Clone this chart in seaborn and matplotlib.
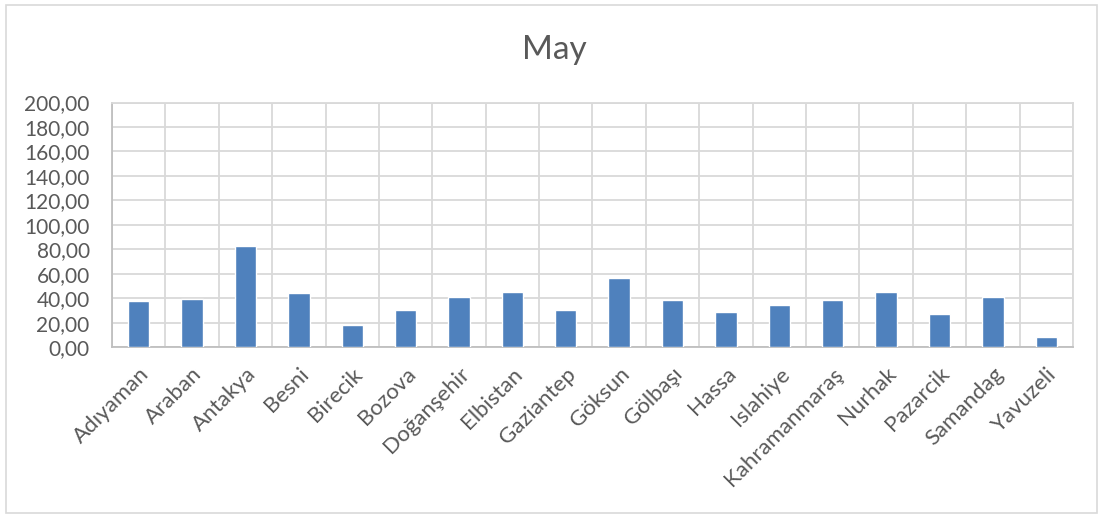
import matplotlib
matplotlib.use("Agg")
import matplotlib.pyplot as plt
import seaborn as sns
import pandas as pd
from matplotlib.ticker import MultipleLocator, FuncFormatter
from matplotlib.patches import Rectangle

districts = ["Adıyaman", "Araban", "Antakya", "Besni", "Birecik", "Bozova",
             "Doğanşehir", "Elbistan", "Gaziantep", "Göksun", "Gölbaşı", "Hassa",
             "Islahiye", "Kahramanmaraş", "Nurhak", "Pazarcik", "Samandag", "Yavuzeli"]
values = [37.5, 39.7, 83.0, 44.1, 18.1, 30.7,
          40.8, 44.7, 30.7, 56.7, 38.4, 28.5,
          34.0, 38.4, 44.7, 26.8, 40.8, 8.2]
title = "May"

df = pd.DataFrame({"district": districts, "value": values})

sns.set_theme(style="white")
plt.rcParams["font.family"] = ["Lato", "DejaVu Sans"]

text_color = "#595959"
grid_color = "#d9d9d9"

fig = plt.figure(figsize=(11.03, 5.18), dpi=100)
ax = fig.add_axes([0.1015, 0.330, 0.8713, 0.472])

sns.barplot(data=df, x="district", y="value", color="#4f81bd", width=0.4,
            saturation=1, ax=ax, zorder=3)

ax.set_ylim(0, 200)
ax.set_xlim(-0.5, len(districts) - 0.5)
ax.yaxis.set_major_locator(MultipleLocator(20))
ax.yaxis.set_major_formatter(FuncFormatter(lambda v, p: f"{v:.2f}".replace(".", ",")))

# vertical grid between categories, horizontal grid at major y ticks
ax.set_xticks([i - 0.5 for i in range(len(districts) + 1)], minor=True)
ax.grid(True, which="minor", axis="x", color=grid_color, linewidth=1.3, zorder=0)
ax.grid(True, which="major", axis="y", color=grid_color, linewidth=1.3, zorder=0)
ax.grid(False, which="major", axis="x")

ax.set_xlabel("")
ax.set_ylabel("")
ax.tick_params(axis="both", which="both", length=0, colors=text_color)
ax.tick_params(axis="y", labelsize=15, pad=16)
ax.tick_params(axis="x", labelsize=16, pad=12)
for lbl in ax.get_xticklabels():
    lbl.set_rotation(45)
    lbl.set_ha("right")
    lbl.set_rotation_mode("anchor")

for side in ["top", "right"]:
    ax.spines[side].set_visible(True)
    ax.spines[side].set_color(grid_color)
    ax.spines[side].set_linewidth(1.3)
ax.spines["left"].set_color("#bfbfbf")
ax.spines["bottom"].set_color("#bfbfbf")
ax.spines["left"].set_linewidth(1.3)
ax.spines["bottom"].set_linewidth(1.3)

fig.text(0.503, 0.903, title, ha="center", va="center", fontsize=24, color=text_color)

# chart frame
fig.patches.append(Rectangle((0.005, 0.01), 0.99, 0.98, transform=fig.transFigure,
                             fill=False, edgecolor=grid_color, linewidth=1.2))

fig.savefig("out.png", dpi=100)
